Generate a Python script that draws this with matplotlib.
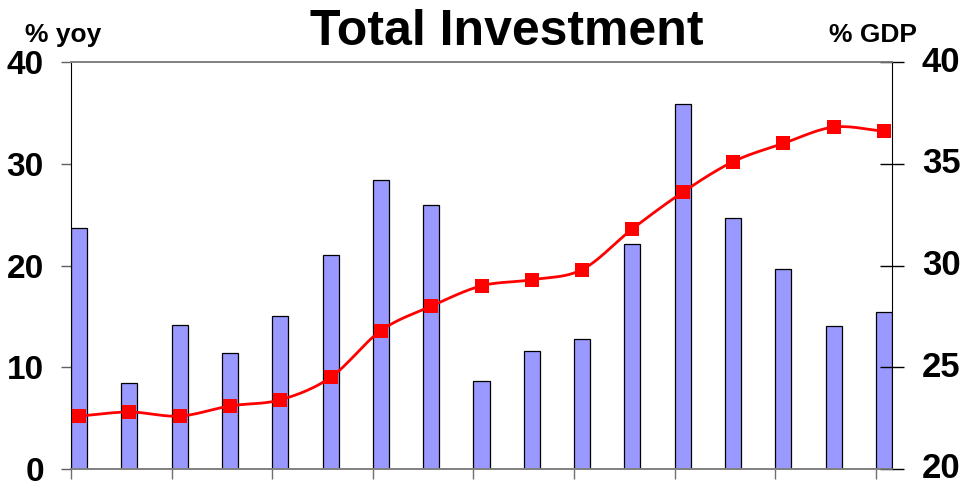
import numpy as np
import matplotlib.pyplot as plt

# annual growth of investment (% yoy, left axis) and its share of GDP (right axis)
yoy = [23.7, 8.5, 14.2, 11.4, 15.0, 21.0, 28.4, 25.9, 8.6, 11.6, 12.8,
       22.1, 35.9, 24.7, 19.7, 14.1, 15.4]
gdp = [22.6, 22.8, 22.6, 23.1, 23.4, 24.5, 26.8, 28.0, 29.0, 29.3, 29.8,
       31.8, 33.6, 35.1, 36.0, 36.8, 36.6]

FONT = ['Liberation Sans', 'DejaVu Sans']
BAR_W = 0.32


def smooth(xs, ys, n=24):
    # Catmull-Rom curve through the points, like a spreadsheet "smoothed line"
    xs = np.asarray(xs, float)
    ys = np.asarray(ys, float)
    px = np.concatenate([[2 * xs[0] - xs[1]], xs, [2 * xs[-1] - xs[-2]]])
    py = np.concatenate([[2 * ys[0] - ys[1]], ys, [2 * ys[-1] - ys[-2]]])
    out_x, out_y = [], []
    t = np.linspace(0, 1, n, endpoint=False)
    for i in range(1, len(px) - 2):
        for p, out in ((px, out_x), (py, out_y)):
            p0, p1, p2, p3 = p[i - 1], p[i], p[i + 1], p[i + 2]
            out.extend(0.5 * (2 * p1 + (-p0 + p2) * t
                              + (2 * p0 - 5 * p1 + 4 * p2 - p3) * t ** 2
                              + (-p0 + 3 * p1 - 3 * p2 + p3) * t ** 3))
    out_x.append(xs[-1])
    out_y.append(ys[-1])
    return np.array(out_x), np.array(out_y)


x = np.arange(len(yoy))

fig = plt.figure(figsize=(9.67, 4.88), dpi=100)
ax = fig.add_axes([71 / 967, 19 / 488, 821 / 967, 407 / 488])
ax.bar(x, yoy, width=BAR_W, color='#9999FF', edgecolor='black', linewidth=0.9)
ax.set_xlim(-BAR_W / 2, len(yoy) - 1 + BAR_W / 2)
ax.set_ylim(0, 40)
ax.set_yticks([0, 10, 20, 30, 40])
ax.set_xticks(x[::2] - BAR_W / 2)
ax.set_xticklabels([])
ax.tick_params(axis='x', direction='out', length=7.5, width=1, color='#707070')
ax.tick_params(axis='y', direction='out', length=7.5, width=1, color='#606060', pad=12)
for lab in ax.get_yticklabels():
    lab.set_fontfamily(FONT)
    lab.set_fontweight('bold')
    lab.set_fontsize(24)

ax2 = ax.twinx()
sx, sy = smooth(x, gdp)
ax2.plot(sx, sy, color='#FF0000', linewidth=2)
ax2.plot(x, gdp, linestyle='none', marker='s', markersize=10.5,
         color='#FF0000', markeredgewidth=0)
ax2.set_ylim(20, 40)
ax2.set_yticks([20, 25, 30, 35, 40])
ax2.tick_params(axis='y', direction='inout', length=17, width=1, color='black', pad=13)
for lab in ax2.get_yticklabels():
    lab.set_fontfamily(FONT)
    lab.set_fontweight('bold')
    lab.set_fontsize(25)
    lab.set_verticalalignment('center')

for a in (ax, ax2):
    a.spines['top'].set_color('#808080')
    a.spines['bottom'].set_color('#808080')
    a.spines['left'].set_color('black')
    a.spines['right'].set_color('black')
    a.spines['top'].set_linewidth(1.2)
    a.spines['bottom'].set_linewidth(1.2)
ax.spines['right'].set_visible(False)
ax2.spines['left'].set_visible(False)

fig.text(507 / 967, 1 - 45 / 488, 'Total Investment', ha='center', va='baseline',
         fontsize=36, fontweight='bold', family=FONT)
fig.text(25 / 967, 1 - 42 / 488, '% yoy', ha='left', va='baseline',
         fontsize=19, fontweight='bold', family=FONT)
fig.text(917 / 967, 1 - 42 / 488, '% GDP', ha='right', va='baseline',
         fontsize=19, fontweight='bold', family=FONT)

fig.savefig('out.png', dpi=100)
